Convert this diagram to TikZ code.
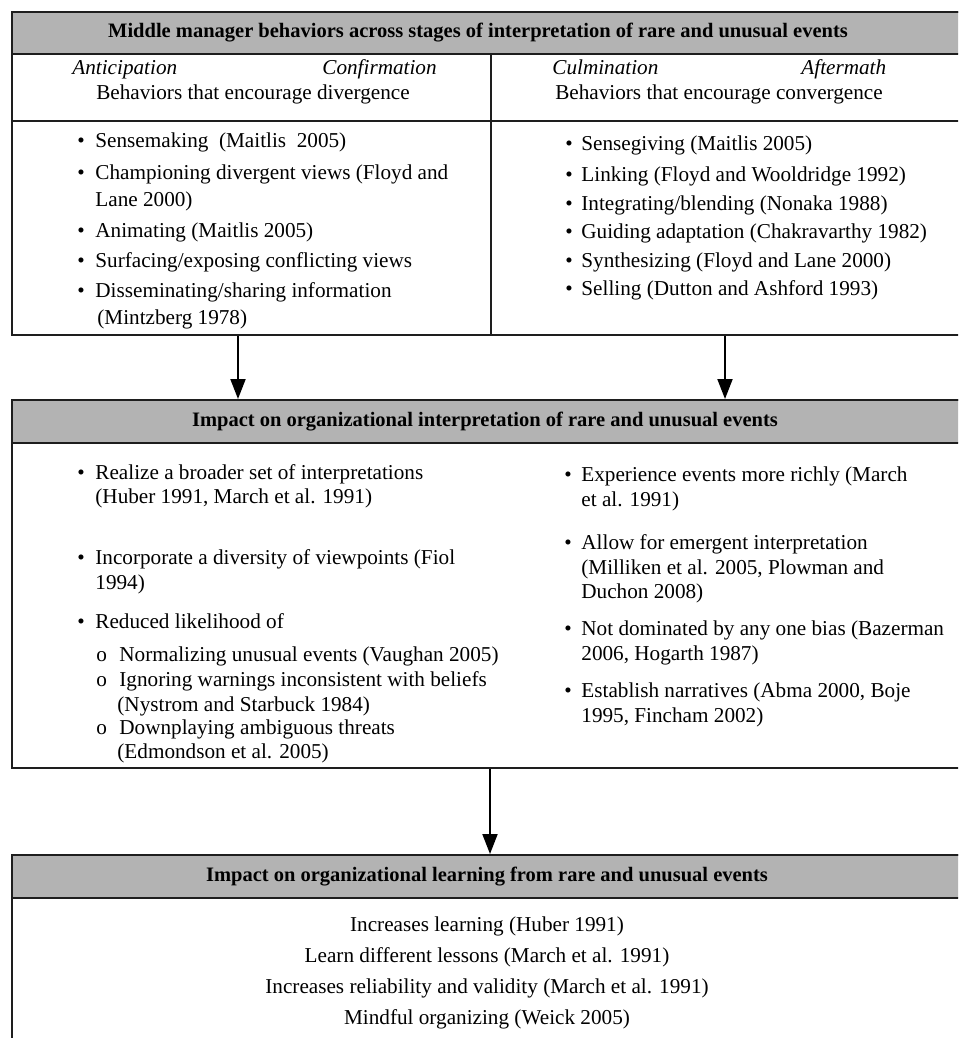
\documentclass[tikz,border=0pt]{standalone}
\usepackage{fontspec}
\setmainfont{Liberation Serif}
\usetikzlibrary{arrows.meta,fit}
\definecolor{hdrgray}{RGB}{179,179,179}
\definecolor{linec}{RGB}{30,30,30}
\begin{document}
\begin{tikzpicture}[x=0.5pt,y=-0.5pt,
  frame/.style={draw=linec, line width=1pt, inner sep=0pt, fill=white},
  hdr/.style={draw=linec, line width=1pt, inner sep=0pt, fill=hdrgray},
  txt/.style={anchor=base west, inner sep=0pt, font=\fontsize{10.6}{12}\selectfont},
  ctxt/.style={anchor=base, inner sep=0pt, font=\fontsize{10.6}{12}\selectfont},
  htxt/.style={anchor=base, inner sep=0pt, font=\fontsize{10.25}{12}\selectfont\bfseries},
  itxt/.style={anchor=base west, inner sep=0pt, font=\fontsize{10.6}{12}\selectfont\itshape},
  arr/.style={draw=black, line width=1pt, -{Triangle[width=7.5pt,length=10pt]}}]
\useasboundingbox (0,0) rectangle (958,1038);
\clip (0,0) rectangle (958,1038);
% ---------- box 1
\node[frame, fit={(12,12) (980,335)}] (b1) {};
\node[hdr, fit={(12,12) (980,54)}] (h1) {};
\node[htxt] (h1t) at (478,38) {Middle manager behaviors across stages of interpretation of rare and unusual events};
\draw[draw=linec, line width=1pt] (12,121) coordinate (s1l) -- (980,121) coordinate (s1r);
\draw[draw=linec, line width=0.8pt] (491,54) coordinate (d1t) -- (491,335) coordinate (d1b);
\node[itxt] (ant) at (72,75) {Anticipation};
\node[itxt] (conf) at (322,75) {Confirmation};
\node[itxt] (culm) at (552,75) {Culmination};
\node[itxt] (aft) at (801,75) {Aftermath};
\node[ctxt] (div) at (253,100) {Behaviors that encourage divergence};
\node[ctxt] (conv) at (719,100) {Behaviors that encourage convergence};
% left bullets
\foreach \y/\t [count=\i] in {148/{Sensemaking\ \ (Maitlis\ \ 2005)},179/{Championing divergent views (Floyd and},237/{Animating (Maitlis 2005)},267/{Surfacing/exposing conflicting views},297/{Disseminating/sharing information}}{
  \node[txt] (lb\i) at (77,\y) {•};
  \node[txt] (lt\i) at (95,\y) {\t};
}
\node[txt] (lt2b) at (95,206) {Lane 2000)};
\node[txt] (lt5b) at (97,324) {(Mintzberg 1978)};
% right bullets
\foreach \y/\t [count=\i] in {150/{Sensegiving (Maitlis 2005)},181/{Linking (Floyd and Wooldridge 1992)},210/{Integrating/blending (Nonaka 1988)},238/{Guiding adaptation (Chakravarthy 1982)},267/{Synthesizing (Floyd and Lane 2000)},295/{Selling (Dutton and Ashford 1993)}}{
  \node[txt] (rb\i) at (565,\y) {•};
  \node[txt] (rt\i) at (581,\y) {\t};
}
% ---------- box 2
\node[frame, fit={(12,400) (980,768)}] (b2) {};
\node[hdr, fit={(12,400) (980,443)}] (h2) {};
\node[htxt] (h2t) at (485,426) {Impact on organizational interpretation of rare and unusual events};
\node[txt] (m1b) at (77,479) {•};
\node[txt] (m1) at (95,479) {Realize a broader set of interpretations};
\node[txt] (m1c) at (95,503) {(Huber 1991, March et al. 1991)};
\node[txt] (m2b) at (77,564) {•};
\node[txt] (m2) at (95,564) {Incorporate a diversity of viewpoints (Fiol};
\node[txt] (m2c) at (95,589) {1994)};
\node[txt] (m3b) at (77,628) {•};
\node[txt] (m3) at (95,628) {Reduced likelihood of};
\node[txt] (s1b) at (96,661) {o};
\node[txt] (s1) at (119,661) {Normalizing unusual events (Vaughan 2005)};
\node[txt] (s2b) at (96,686) {o};
\node[txt] (s2) at (119,686) {Ignoring warnings inconsistent with beliefs};
\node[txt] (s2c) at (117,711) {(Nystrom and Starbuck 1984)};
\node[txt] (s3b) at (96,734) {o};
\node[txt] (s3) at (119,734) {Downplaying ambiguous threats};
\node[txt] (s3c) at (117,758) {(Edmondson et al. 2005)};
\node[txt] (n1b) at (564,481) {•};
\node[txt] (n1) at (581,481) {Experience events more richly (March};
\node[txt] (n1c) at (581,506) {et al. 1991)};
\node[txt] (n2b) at (564,549) {•};
\node[txt] (n2) at (581,549) {Allow for emergent interpretation};
\node[txt] (n2c) at (581,574) {(Milliken et al. 2005, Plowman and};
\node[txt] (n2d) at (581,598) {Duchon 2008)};
\node[txt] (n3b) at (564,635) {•};
\node[txt] (n3) at (581,635) {Not dominated by any one bias (Bazerman};
\node[txt] (n3c) at (581,660) {2006, Hogarth 1987)};
\node[txt] (n4b) at (564,697) {•};
\node[txt] (n4) at (581,697) {Establish narratives (Abma 2000, Boje};
\node[txt] (n4c) at (581,722) {1995, Fincham 2002)};
% ---------- box 3
\node[frame, fit={(12,855) (980,1060)}] (b3) {};
\node[hdr, fit={(12,855) (980,898)}] (h3) {};
\node[htxt] (h3t) at (487,881) {Impact on organizational learning from rare and unusual events};
\node[ctxt] (o1) at (487,931) {Increases learning (Huber 1991)};
\node[ctxt] (o2) at (487,962) {Learn different lessons (March et al. 1991)};
\node[ctxt] (o3) at (487,993) {Increases reliability and validity (March et al. 1991)};
\node[ctxt] (o4) at (487,1024) {Mindful organizing (Weick 2005)};
% ---------- arrows
\coordinate (ax1) at (238,0);
\coordinate (ax2) at (725,0);
\coordinate (ax3) at (490,0);
\draw[arr] (b1.south -| ax1) -- (b2.north -| ax1);
\draw[arr] (b1.south -| ax2) -- (b2.north -| ax2);
\draw[arr] (b2.south -| ax3) -- (b3.north -| ax3);
\end{tikzpicture}
\end{document}
